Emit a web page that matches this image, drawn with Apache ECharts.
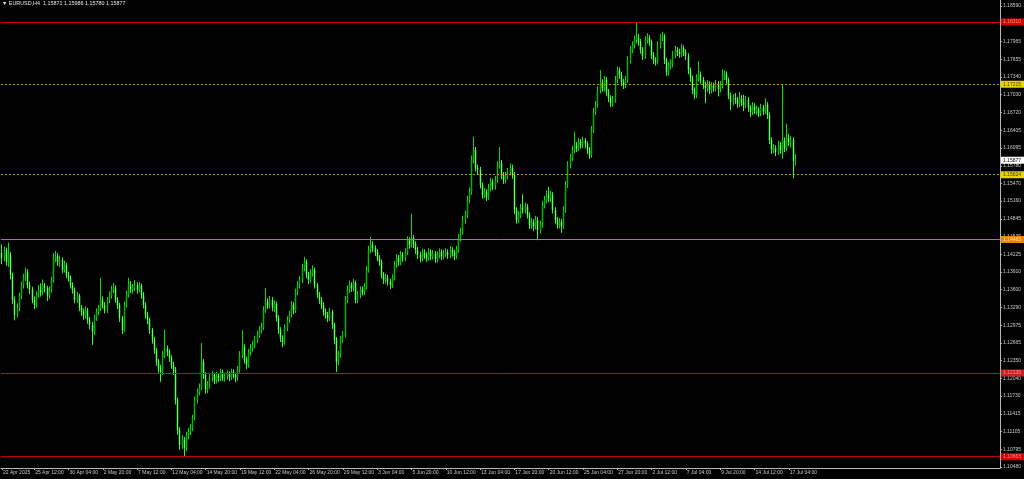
<!DOCTYPE html>
<html><head><meta charset="utf-8">
<script src="https://cdn.jsdelivr.net/npm/echarts@6/dist/echarts.min.js"></script>
<style>html,body{margin:0;padding:0;background:#000;}#c{width:1024px;height:479px;}</style>
</head><body><div id="c"></div>
<script>
const symbolTitle = "\u25BC EURUSD,H4  1.15871 1.15986 1.15780 1.15877";
const categoryCount = 466;
const xLabels = ["22 Apr 2025","25 Apr 12:00","30 Apr 04:00","2 May 20:00","7 May 12:00","12 May 04:00","14 May 20:00","19 May 12:00","22 May 04:00","26 May 20:00","29 May 12:00","3 Jun 04:00","5 Jun 20:00","10 Jun 12:00","13 Jun 04:00","17 Jun 20:00","20 Jun 12:00","25 Jun 04:00","27 Jun 20:00","2 Jul 12:00","7 Jul 04:00","9 Jul 20:00","14 Jul 12:00","17 Jul 04:00"];
const xLabelIndex = [0,15,31,47,63,79,95,111,127,143,159,175,191,207,223,239,255,271,287,303,319,335,351,367];
const yTicks = [1.18590,1.18280,1.17965,1.17655,1.17340,1.17030,1.16720,1.16405,1.16095,1.15780,1.15470,1.15160,1.14845,1.14535,1.14225,1.13910,1.13600,1.13290,1.12975,1.12665,1.12350,1.12040,1.11730,1.11415,1.11105,1.10795,1.10480];
const levelValues = [1.18310,1.17215,1.15624,1.14483,1.12135,1.10663];
const currentPrice = 1.15877;

const opens = [1.1425,1.1416,1.1430,1.1409,1.1421,1.1386,1.1342,1.1316,1.1328,1.1349,
1.1368,1.1381,1.1391,1.1368,1.1360,1.1342,1.1333,1.1351,1.1360,1.1356,
1.1367,1.1363,1.1349,1.1360,1.1377,1.1416,1.1419,1.1409,1.1412,1.1395,
1.1403,1.1386,1.1381,1.1368,1.1360,1.1342,1.1349,1.1328,1.1321,1.1314,
1.1324,1.1307,1.1298,1.1286,1.1310,1.1321,1.1328,1.1342,1.1333,1.1324,
1.1342,1.1349,1.1360,1.1363,1.1342,1.1333,1.1310,1.1289,1.1333,1.1351,
1.1368,1.1360,1.1363,1.1368,1.1360,1.1367,1.1351,1.1333,1.1316,1.1307,
1.1289,1.1272,1.1254,1.1233,1.1222,1.1215,1.1245,1.1257,1.1250,1.1240,
1.1228,1.1219,1.1166,1.1113,1.1087,1.1096,1.1082,1.1104,1.1110,1.1117,
1.1134,1.1166,1.1180,1.1187,1.1233,1.1210,1.1184,1.1192,1.1205,1.1210,
1.1201,1.1208,1.1205,1.1215,1.1205,1.1208,1.1212,1.1206,1.1215,1.1210,
1.1205,1.1219,1.1245,1.1259,1.1236,1.1228,1.1250,1.1257,1.1263,1.1272,
1.1280,1.1289,1.1293,1.1324,1.1338,1.1333,1.1342,1.1328,1.1335,1.1310,
1.1289,1.1275,1.1268,1.1293,1.1307,1.1316,1.1333,1.1324,1.1356,1.1368,
1.1377,1.1398,1.1409,1.1386,1.1377,1.1389,1.1395,1.1368,1.1351,1.1342,
1.1333,1.1321,1.1316,1.1310,1.1321,1.1298,1.1272,1.1233,1.1245,1.1272,
1.1280,1.1342,1.1360,1.1368,1.1363,1.1372,1.1342,1.1351,1.1360,1.1356,
1.1365,1.1395,1.1430,1.1439,1.1433,1.1426,1.1416,1.1409,1.1386,1.1377,
1.1381,1.1374,1.1368,1.1381,1.1403,1.1416,1.1409,1.1421,1.1416,1.1426,
1.1447,1.1439,1.1451,1.1440,1.1430,1.1421,1.1416,1.1425,1.1421,1.1416,
1.1426,1.1419,1.1423,1.1414,1.1421,1.1426,1.1419,1.1423,1.1426,1.1421,
1.1430,1.1425,1.1419,1.1430,1.1451,1.1462,1.1483,1.1491,1.1518,1.1532,
1.1588,1.1606,1.1574,1.1571,1.1544,1.1527,1.1532,1.1523,1.1539,1.1550,
1.1542,1.1553,1.1579,1.1583,1.1562,1.1553,1.1560,1.1567,1.1574,1.1562,
1.1500,1.1483,1.1491,1.1504,1.1500,1.1506,1.1491,1.1474,1.1479,1.1472,
1.1483,1.1465,1.1474,1.1509,1.1518,1.1525,1.1521,1.1527,1.1500,1.1483,
1.1474,1.1479,1.1472,1.1500,1.1544,1.1579,1.1592,1.1606,1.1615,1.1609,
1.1620,1.1615,1.1622,1.1616,1.1606,1.1597,1.1641,1.1673,1.1685,1.1711,
1.1725,1.1715,1.1729,1.1708,1.1697,1.1688,1.1694,1.1729,1.1746,1.1738,
1.1725,1.1720,1.1729,1.1764,1.1782,1.1790,1.1799,1.1803,1.1796,1.1782,
1.1771,1.1799,1.1803,1.1796,1.1773,1.1764,1.1761,1.1790,1.1803,1.1806,
1.1764,1.1743,1.1754,1.1757,1.1773,1.1782,1.1778,1.1775,1.1785,1.1778,
1.1771,1.1746,1.1732,1.1711,1.1702,1.1732,1.1739,1.1729,1.1720,1.1715,
1.1722,1.1711,1.1718,1.1715,1.1722,1.1713,1.1720,1.1736,1.1739,1.1729,
1.1702,1.1690,1.1697,1.1694,1.1687,1.1697,1.1690,1.1685,1.1694,1.1680,
1.1673,1.1683,1.1676,1.1676,1.1671,1.1680,1.1674,1.1685,1.1667,1.1623,
1.1606,1.1609,1.1602,1.1615,1.1606,1.1623,1.1609,1.1627,1.1620,1.1623,
1.15871];

const closes = [1.1416,1.1430,1.1409,1.1421,1.1386,1.1342,1.1316,1.1328,1.1349,1.1368,
1.1381,1.1391,1.1368,1.1360,1.1342,1.1333,1.1351,1.1360,1.1356,1.1367,
1.1363,1.1349,1.1360,1.1377,1.1416,1.1419,1.1409,1.1412,1.1395,1.1403,
1.1386,1.1381,1.1368,1.1360,1.1342,1.1349,1.1328,1.1321,1.1314,1.1324,
1.1307,1.1298,1.1286,1.1310,1.1321,1.1328,1.1342,1.1333,1.1324,1.1342,
1.1349,1.1360,1.1363,1.1342,1.1333,1.1310,1.1289,1.1333,1.1351,1.1368,
1.1360,1.1363,1.1368,1.1360,1.1367,1.1351,1.1333,1.1316,1.1307,1.1289,
1.1272,1.1254,1.1233,1.1222,1.1215,1.1245,1.1257,1.1250,1.1240,1.1228,
1.1219,1.1166,1.1113,1.1087,1.1096,1.1082,1.1104,1.1110,1.1117,1.1134,
1.1166,1.1180,1.1187,1.1233,1.1210,1.1184,1.1192,1.1205,1.1210,1.1201,
1.1208,1.1205,1.1215,1.1205,1.1208,1.1212,1.1206,1.1215,1.1210,1.1205,
1.1219,1.1245,1.1259,1.1236,1.1228,1.1250,1.1257,1.1263,1.1272,1.1280,
1.1289,1.1293,1.1324,1.1338,1.1333,1.1342,1.1328,1.1335,1.1310,1.1289,
1.1275,1.1268,1.1293,1.1307,1.1316,1.1333,1.1324,1.1356,1.1368,1.1377,
1.1398,1.1409,1.1386,1.1377,1.1389,1.1395,1.1368,1.1351,1.1342,1.1333,
1.1321,1.1316,1.1310,1.1321,1.1298,1.1272,1.1233,1.1245,1.1272,1.1280,
1.1342,1.1360,1.1368,1.1363,1.1372,1.1342,1.1351,1.1360,1.1356,1.1365,
1.1395,1.1430,1.1439,1.1433,1.1426,1.1416,1.1409,1.1386,1.1377,1.1381,
1.1374,1.1368,1.1381,1.1403,1.1416,1.1409,1.1421,1.1416,1.1426,1.1447,
1.1439,1.1451,1.1440,1.1430,1.1421,1.1416,1.1425,1.1421,1.1416,1.1426,
1.1419,1.1423,1.1414,1.1421,1.1426,1.1419,1.1423,1.1426,1.1421,1.1430,
1.1425,1.1419,1.1430,1.1451,1.1462,1.1483,1.1491,1.1518,1.1532,1.1588,
1.1606,1.1574,1.1571,1.1544,1.1527,1.1532,1.1523,1.1539,1.1550,1.1542,
1.1553,1.1579,1.1583,1.1562,1.1553,1.1560,1.1567,1.1574,1.1562,1.1500,
1.1483,1.1491,1.1504,1.1500,1.1506,1.1491,1.1474,1.1479,1.1472,1.1483,
1.1465,1.1474,1.1509,1.1518,1.1525,1.1521,1.1527,1.1500,1.1483,1.1474,
1.1479,1.1472,1.1500,1.1544,1.1579,1.1592,1.1606,1.1615,1.1609,1.1620,
1.1615,1.1622,1.1616,1.1606,1.1597,1.1641,1.1673,1.1685,1.1711,1.1725,
1.1715,1.1729,1.1708,1.1697,1.1688,1.1694,1.1729,1.1746,1.1738,1.1725,
1.1720,1.1729,1.1764,1.1782,1.1790,1.1799,1.1803,1.1796,1.1782,1.1771,
1.1799,1.1803,1.1796,1.1773,1.1764,1.1761,1.1790,1.1803,1.1806,1.1764,
1.1743,1.1754,1.1757,1.1773,1.1782,1.1778,1.1775,1.1785,1.1778,1.1771,
1.1746,1.1732,1.1711,1.1702,1.1732,1.1739,1.1729,1.1720,1.1715,1.1722,
1.1711,1.1718,1.1715,1.1722,1.1713,1.1720,1.1736,1.1739,1.1729,1.1702,
1.1690,1.1697,1.1694,1.1687,1.1697,1.1690,1.1685,1.1694,1.1680,1.1673,
1.1683,1.1676,1.1676,1.1671,1.1680,1.1674,1.1685,1.1667,1.1623,1.1606,
1.1609,1.1602,1.1615,1.1606,1.1623,1.1609,1.1627,1.1620,1.1623,1.1587,
1.15877];

const highs = [1.1440,1.1436,1.1434,1.1443,1.1426,1.1390,1.1348,1.1336,1.1355,1.1374,
1.1388,1.1399,1.1396,1.1374,1.1365,1.1348,1.1357,1.1368,1.1371,1.1378,
1.1372,1.1367,1.1366,1.1383,1.1424,1.1428,1.1425,1.1420,1.1417,1.1411,
1.1407,1.1392,1.1385,1.1373,1.1364,1.1356,1.1353,1.1333,1.1327,1.1331,
1.1328,1.1312,1.1303,1.1316,1.1327,1.1333,1.1381,1.1348,1.1338,1.1347,
1.1357,1.1367,1.1372,1.1368,1.1347,1.1337,1.1314,1.1339,1.1358,1.1381,
1.1375,1.1370,1.1377,1.1373,1.1374,1.1371,1.1356,1.1338,1.1321,1.1311,
1.1293,1.1277,1.1258,1.1238,1.1228,1.1252,1.1290,1.1262,1.1255,1.1245,
1.1233,1.1224,1.1170,1.1118,1.1104,1.1101,1.1110,1.1117,1.1124,1.1140,
1.1172,1.1186,1.1195,1.1266,1.1238,1.1215,1.1199,1.1211,1.1217,1.1214,
1.1215,1.1213,1.1221,1.1219,1.1214,1.1218,1.1216,1.1221,1.1220,1.1214,
1.1226,1.1252,1.1289,1.1264,1.1242,1.1256,1.1264,1.1270,1.1279,1.1288,
1.1296,1.1302,1.1331,1.1363,1.1345,1.1349,1.1347,1.1341,1.1339,1.1315,
1.1294,1.1280,1.1299,1.1313,1.1323,1.1340,1.1338,1.1362,1.1375,1.1384,
1.1405,1.1418,1.1413,1.1391,1.1396,1.1403,1.1399,1.1372,1.1356,1.1347,
1.1338,1.1327,1.1321,1.1328,1.1325,1.1302,1.1277,1.1252,1.1279,1.1287,
1.1349,1.1367,1.1376,1.1373,1.1379,1.1376,1.1358,1.1366,1.1366,1.1372,
1.1402,1.1437,1.1453,1.1445,1.1438,1.1431,1.1421,1.1413,1.1391,1.1388,
1.1386,1.1379,1.1387,1.1410,1.1423,1.1421,1.1428,1.1426,1.1433,1.1454,
1.1452,1.1494,1.1456,1.1445,1.1435,1.1427,1.1432,1.1431,1.1426,1.1433,
1.1431,1.1430,1.1428,1.1427,1.1433,1.1431,1.1430,1.1433,1.1431,1.1437,
1.1435,1.1430,1.1437,1.1458,1.1469,1.1490,1.1499,1.1525,1.1540,1.1596,
1.1629,1.1611,1.1580,1.1576,1.1549,1.1539,1.1537,1.1546,1.1557,1.1555,
1.1560,1.1586,1.1611,1.1588,1.1567,1.1567,1.1574,1.1582,1.1580,1.1567,
1.1505,1.1498,1.1511,1.1528,1.1513,1.1511,1.1496,1.1486,1.1484,1.1490,
1.1488,1.1481,1.1516,1.1525,1.1535,1.1541,1.1534,1.1532,1.1505,1.1488,
1.1486,1.1484,1.1507,1.1551,1.1586,1.1599,1.1613,1.1638,1.1620,1.1627,
1.1625,1.1629,1.1627,1.1621,1.1611,1.1648,1.1680,1.1692,1.1718,1.1746,
1.1730,1.1736,1.1734,1.1713,1.1702,1.1701,1.1736,1.1753,1.1751,1.1743,
1.1731,1.1736,1.1771,1.1789,1.1797,1.1807,1.1830,1.1810,1.1801,1.1787,
1.1806,1.1811,1.1808,1.1800,1.1778,1.1769,1.1797,1.1810,1.1814,1.1810,
1.1768,1.1761,1.1765,1.1780,1.1789,1.1787,1.1784,1.1792,1.1790,1.1783,
1.1776,1.1751,1.1737,1.1716,1.1739,1.1762,1.1744,1.1734,1.1726,1.1729,
1.1727,1.1725,1.1724,1.1729,1.1727,1.1727,1.1748,1.1746,1.1744,1.1733,
1.1707,1.1704,1.1706,1.1699,1.1708,1.1702,1.1703,1.1701,1.1699,1.1685,
1.1690,1.1688,1.1684,1.1681,1.1687,1.1685,1.1697,1.1690,1.1672,1.1628,
1.1616,1.1614,1.1622,1.1620,1.1721,1.1628,1.1652,1.1634,1.1630,1.1628,
1.15986];

const lows = [1.1405,1.1410,1.1402,1.1400,1.1378,1.1335,1.1306,1.1311,1.1322,1.1343,
1.1362,1.1375,1.1362,1.1352,1.1336,1.1326,1.1328,1.1346,1.1348,1.1350,
1.1355,1.1340,1.1344,1.1355,1.1372,1.1408,1.1402,1.1400,1.1389,1.1390,
1.1380,1.1374,1.1362,1.1353,1.1336,1.1337,1.1322,1.1314,1.1307,1.1309,
1.1300,1.1290,1.1263,1.1280,1.1305,1.1315,1.1323,1.1327,1.1318,1.1319,
1.1336,1.1344,1.1354,1.1337,1.1326,1.1303,1.1282,1.1285,1.1328,1.1346,
1.1354,1.1353,1.1358,1.1353,1.1355,1.1344,1.1327,1.1309,1.1299,1.1282,
1.1265,1.1247,1.1226,1.1214,1.1198,1.1210,1.1240,1.1243,1.1233,1.1221,
1.1210,1.1158,1.1105,1.1078,1.1080,1.1066,1.1076,1.1097,1.1104,1.1111,
1.1130,1.1160,1.1174,1.1183,1.1203,1.1177,1.1178,1.1186,1.1198,1.1194,
1.1195,1.1198,1.1199,1.1199,1.1198,1.1202,1.1199,1.1201,1.1204,1.1197,
1.1200,1.1214,1.1240,1.1230,1.1220,1.1223,1.1244,1.1251,1.1257,1.1266,
1.1275,1.1283,1.1289,1.1319,1.1326,1.1327,1.1322,1.1321,1.1304,1.1282,
1.1268,1.1259,1.1263,1.1287,1.1301,1.1311,1.1317,1.1319,1.1350,1.1362,
1.1372,1.1392,1.1380,1.1370,1.1372,1.1383,1.1362,1.1345,1.1335,1.1326,
1.1314,1.1309,1.1303,1.1305,1.1291,1.1264,1.1215,1.1227,1.1240,1.1266,
1.1276,1.1336,1.1354,1.1356,1.1357,1.1336,1.1336,1.1345,1.1350,1.1350,
1.1360,1.1390,1.1424,1.1426,1.1419,1.1410,1.1402,1.1380,1.1370,1.1371,
1.1367,1.1361,1.1363,1.1376,1.1398,1.1402,1.1403,1.1409,1.1410,1.1421,
1.1432,1.1434,1.1433,1.1423,1.1414,1.1408,1.1410,1.1414,1.1409,1.1411,
1.1412,1.1413,1.1407,1.1408,1.1415,1.1412,1.1413,1.1417,1.1414,1.1415,
1.1418,1.1412,1.1414,1.1425,1.1445,1.1457,1.1476,1.1486,1.1512,1.1527,
1.1582,1.1568,1.1563,1.1538,1.1520,1.1521,1.1516,1.1518,1.1533,1.1535,
1.1536,1.1548,1.1573,1.1555,1.1546,1.1547,1.1554,1.1561,1.1555,1.1493,
1.1476,1.1477,1.1486,1.1494,1.1494,1.1485,1.1467,1.1467,1.1463,1.1466,
1.1447,1.1459,1.1469,1.1503,1.1512,1.1514,1.1514,1.1494,1.1476,1.1467,
1.1468,1.1460,1.1467,1.1495,1.1539,1.1573,1.1586,1.1600,1.1602,1.1604,
1.1608,1.1609,1.1609,1.1599,1.1590,1.1592,1.1636,1.1667,1.1680,1.1705,
1.1708,1.1709,1.1701,1.1690,1.1681,1.1682,1.1689,1.1723,1.1731,1.1718,
1.1713,1.1714,1.1724,1.1758,1.1776,1.1784,1.1793,1.1789,1.1775,1.1764,
1.1766,1.1793,1.1789,1.1766,1.1757,1.1754,1.1756,1.1784,1.1797,1.1757,
1.1736,1.1737,1.1748,1.1751,1.1767,1.1771,1.1768,1.1769,1.1771,1.1764,
1.1739,1.1725,1.1704,1.1695,1.1697,1.1726,1.1722,1.1713,1.1688,1.1708,
1.1704,1.1705,1.1708,1.1709,1.1700,1.1707,1.1714,1.1729,1.1722,1.1695,
1.1676,1.1684,1.1687,1.1680,1.1681,1.1683,1.1674,1.1679,1.1673,1.1664,
1.1667,1.1669,1.1668,1.1664,1.1665,1.1667,1.1669,1.1660,1.1616,1.1599,
1.1600,1.1595,1.1597,1.1599,1.1590,1.1602,1.1604,1.1613,1.1610,1.1556,
1.15780];

const categories = new Array(categoryCount).fill('');
xLabelIndex.forEach((idx, k) => { categories[idx] = xLabels[k]; });
const candleRows = opens.map((o, i) => [i, o, closes[i], lows[i], highs[i]]);

const UP_BODY = '#00b400', UP_WICK = '#00e000';
const DOWN_BODY = '#5cff5c', DOWN_WICK = '#28ff28';

function renderCandle(params, api) {
  const i = api.value(0), o = api.value(1), c = api.value(2), l = api.value(3), h = api.value(4);
  const pO = api.coord([i, o]), pC = api.coord([i, c]), pH = api.coord([i, h]), pL = api.coord([i, l]);
  const r = Math.round(pO[0] - 0.5);
  const up = c >= o;
  const top = Math.min(pO[1], pC[1]);
  const hgt = Math.max(1, Math.abs(pO[1] - pC[1]));
  return {type: 'group', children: [
    {type: 'line', shape: {x1: r + 0.5, y1: pH[1], x2: r + 0.5, y2: pL[1]}, style: {stroke: up ? UP_WICK : DOWN_WICK, lineWidth: 1}},
    {type: 'rect', shape: {x: r - 0.25, y: top, width: 1.5, height: hgt}, style: {fill: up ? UP_BODY : DOWN_BODY}}
  ]};
}

const FONT = 'Liberation Sans';
const levelStyles = [
  {line: {color: '#d00000', type: 'solid'}, bg: '#d40000', fg: '#ff9090'},
  {line: {color: '#c8a000', type: [2, 2]}, bg: '#e8d400', fg: '#403800'},
  {line: {color: '#c8a000', type: [2, 2]}, bg: '#e8d400', fg: '#403800'},
  {line: {color: '#e07000', type: 'solid'}, bg: '#e88400', fg: '#ffe0a0'},
  {line: {color: '#b01818', type: 'solid'}, bg: '#c82020', fg: '#ff9090'},
  {line: {color: '#c80000', type: 'solid'}, bg: '#d40000', fg: '#ff9090'}
];
const markData = levelValues.map((v, i) => ({
  yAxis: v,
  lineStyle: {color: levelStyles[i].line.color, type: levelStyles[i].line.type, width: 1},
  label: {show: true, position: 'end', distance: 1, formatter: v.toFixed(5),
    backgroundColor: levelStyles[i].bg, color: levelStyles[i].fg, fontSize: 5, fontFamily: FONT,
    padding: [1, 12, 1, 2]}
}));
markData.push({
  yAxis: currentPrice,
  lineStyle: {color: 'rgba(0,0,0,0)', width: 0},
  label: {show: true, position: 'end', distance: 1, formatter: currentPrice.toFixed(5),
    backgroundColor: '#ffffff', color: '#000000', fontSize: 5, fontFamily: FONT, padding: [1, 12, 1, 2]}
});

const chart = echarts.init(document.getElementById('c'), null, {renderer: 'canvas'});
chart.setOption({
  backgroundColor: '#000000',
  animation: false,
  graphic: [{type: 'text', left: 2, top: 1, style: {text: symbolTitle, fill: '#e8e8e8', font: '5.4px "Liberation Sans"'}}],
  grid: {left: 0, right: 22, top: 0, bottom: 11},
  xAxis: {
    type: 'category', data: categories, boundaryGap: true,
    axisLine: {lineStyle: {color: '#b8b8b8', width: 1}},
    axisTick: {show: true, alignWithLabel: true, length: 2, interval: (i, v) => v !== '', lineStyle: {color: '#b8b8b8'}},
    axisLabel: {interval: (i, v) => v !== '', align: 'left', margin: 2, fontSize: 5, color: '#c8c8c8', fontFamily: FONT, padding: [0, 0, 0, 1]},
    splitLine: {show: false}
  },
  yAxis: {
    type: 'value', position: 'right', min: 1.10463, max: 1.18696, scale: true,
    axisLine: {show: true, lineStyle: {color: '#b8b8b8', width: 1}},
    axisTick: {show: true, length: 2, customValues: yTicks, lineStyle: {color: '#b8b8b8'}},
    axisLabel: {customValues: yTicks, formatter: v => v.toFixed(5), fontSize: 5, color: '#c8c8c8', fontFamily: FONT, margin: 3},
    splitLine: {show: false}
  },
  series: [
    {
      type: 'custom', name: 'EURUSD,H4', data: candleRows, renderItem: renderCandle,
      encode: {x: 0, y: [1, 2, 3, 4]}, clip: true, silent: true
    },
    {
      type: 'line', data: [], silent: true,
      markLine: {silent: true, precision: 5, symbol: ['none', 'none'], animation: false, data: markData}
    }
  ]
});
</script>
</body></html>
